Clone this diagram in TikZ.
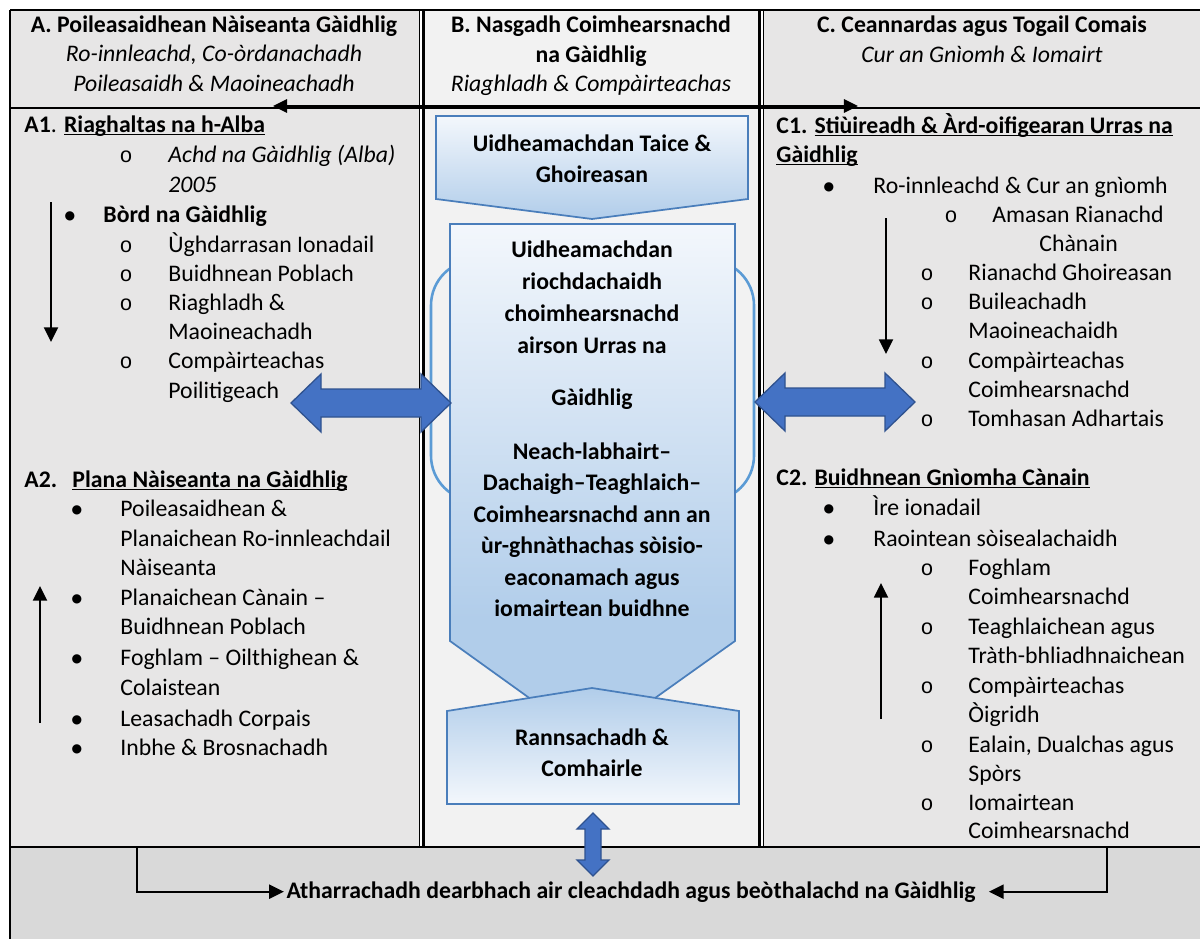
\documentclass[tikz,border=0pt]{standalone}
\usepackage{fontspec}
\setmainfont{Carlito}
\newfontfamily\courfont{Liberation Mono}
\newfontfamily\dejavu{DejaVu Sans}
\usetikzlibrary{arrows.meta}
\definecolor{grayA}{HTML}{E7E6E6}
\definecolor{grayB}{HTML}{F2F2F2}
\definecolor{grayD}{HTML}{D9D9D9}
\definecolor{shLight}{HTML}{F3F7FC}
\definecolor{shDark}{HTML}{B1CDEA}
\definecolor{shEdge}{HTML}{4A7EBB}
\definecolor{ringC}{HTML}{5B9BD5}
\definecolor{barrow}{HTML}{4472C4}
\definecolor{barrowE}{HTML}{2F528F}
\pgfdeclareverticalshading{bigsh}{100bp}{color(0bp)=(shDark); color(25bp)=(shDark); color(37bp)=(shDark); color(75bp)=(shLight); color(100bp)=(shLight)}
\newcommand\uln[1]{\setbox0=\hbox{#1}\rlap{\rule[-1.4pt]{\wd0}{0.6pt}}\box0}
\newcommand\bodyfs{\fontsize{11pt}{13.6pt}\selectfont}
\newcommand\bul{\raisebox{1.2pt}{●}}
\begin{document}
\begin{tikzpicture}[x=0.463pt,y=-0.463pt,
  txt/.style={anchor=base west,inner sep=0pt,font=\bodyfs},
  txc/.style={anchor=base,inner sep=0pt,font=\bodyfs},
  hb/.style={anchor=base,inner sep=0pt,font=\bodyfs\bfseries},
  hi/.style={anchor=base,inner sep=0pt,font=\bodyfs\itshape},
  bl/.style={anchor=base,inner sep=0pt,font=\fontsize{5.6pt}{7pt}\dejavu},
  sb/.style={anchor=base,inner sep=0pt,font=\fontsize{10pt}{12pt}\courfont},
  gridline/.style={line width=0.9pt},
  gthin/.style={line width=0.45pt},
  gthick/.style={line width=1.3pt},
  conn/.style={line width=0.8pt,-{Triangle[length=6.8pt,width=6.5pt]}},
  conn2/.style={line width=0.8pt,{Triangle[length=6.5pt,width=6.2pt]}-{Triangle[length=6.5pt,width=6.2pt]}},
  shapebox/.style={draw=shEdge,line width=0.8pt},
  blockarrow/.style={fill=barrow,draw=barrowE,line width=0.6pt},
]
\useasboundingbox (0,0) rectangle (1200,939);
\fill[white] (0,0) rectangle (1200,939);
% backgrounds
\fill[grayA] (10,10) rectangle (419,847);
\fill[grayB] (423,10) rectangle (760,847);
\fill[grayA] (764,10) rectangle (1200,847);
\fill[grayD] (10,847) rectangle (1200,939);
% table lines
\draw[gridline] (10,10) -- (1200,10);
\draw[gridline] (10,108) -- (1200,108);
\draw[gridline] (10,847) -- (1200,847);
\draw[gridline] (10,10) -- (10,939);
\draw[gthin] (419,10) -- (419,847);
\draw[gthick] (423.5,10) -- (423.5,847);
\draw[gthick] (759.5,10) -- (759.5,847);
\draw[gthin] (763.5,10) -- (763.5,847);

% headers
\node[hb] (hA1) at (214,32) {A. Poileasaidhean Nàiseanta Gàidhlig};
\node[hi] (hA2) at (214,61) {Ro-innleachd, Co-òrdanachadh};
\node[hi] (hA3) at (214,91) {Poileasaidh \& Maoineachadh};
\node[hb] (hB1) at (591,32) {B. Nasgadh Coimhearsnachd};
\node[hb] (hB2) at (591,62) {na Gàidhlig};
\node[hi] (hB3) at (591,91) {Riaghladh \& Compàirteachas};
\node[hb] (hC1) at (982,32) {C. Ceannardas agus Togail Comais};
\node[hi] (hC2) at (982,62) {Cur an Gnìomh \& Iomairt};

% middle shapes
\draw[ringC,line width=1.2pt,rounded corners=21pt] (431,260) rectangle (754,501);
\draw[shapebox,top color=shLight,bottom color=shDark] (436,116) -- (748,116) -- (748,199) -- (592,219) -- (436,199) -- cycle;
\draw[shapebox,shading=bigsh] (450,224) -- (735,224) -- (735,641) -- (592,743) -- (450,641) -- cycle;
\draw[shapebox,top color=shDark,bottom color=shLight] (447,711) -- (592,688) -- (739,711) -- (739,804) -- (447,804) -- cycle;

\node[hb] (m1) at (592,151) {Uidheamachdan Taice \&};
\node[hb] (m2) at (592,182) {Ghoireasan};
\node[hb] (m3) at (592,257) {Uidheamachdan};
\node[hb] (m4) at (592,289) {riochdachaidh};
\node[hb] (m5) at (592,321) {choimhearsnachd};
\node[hb] (m6) at (592,353) {airson Urras na};
\node[hb] (m7) at (592,405) {Gàidhlig};
\node[hb] (m8) at (592,459) {Neach-labhairt–};
\node[hb] (m9) at (592,490) {Dachaigh–Teaghlaich–};
\node[hb] (m10) at (592,522) {Coimhearsnachd ann an};
\node[hb] (m11) at (592,553) {ùr-ghnàthachas sòisio-};
\node[hb] (m12) at (592,585) {eaconamach agus};
\node[hb] (m13) at (592,616) {iomairtean buidhne};
\node[hb] (m14) at (592,745) {Rannsachadh \&};
\node[hb] (m15) at (592,776) {Comhairle};

% A1
\node[txt] (a1) at (24,132) {\textbf{A1}. \uln{\textbf{Riaghaltas na h-Alba}}};
\node[sb] (a1o1) at (126,162) {o};
\node[txt] (a1t1) at (168,162) {\itshape Achd na Gàidhlig (Alba)};
\node[txt] (a1t1b) at (168,192) {\itshape 2005};
\node[bl] (a1b1) at (70,222) {\bul};
\node[txt] (a1t2) at (103,222) {\bfseries Bòrd na Gàidhlig};
\node[sb] (a1o2) at (126,252) {o};
\node[txt] (a1t3) at (168,252) {Ùghdarrasan Ionadail};
\node[sb] (a1o3) at (126,281) {o};
\node[txt] (a1t4) at (168,281) {Buidhnean Poblach};
\node[sb] (a1o4) at (126,310) {o};
\node[txt] (a1t5) at (168,310) {Riaghladh \&};
\node[txt] (a1t5b) at (168,339) {Maoineachadh};
\node[sb] (a1o5) at (126,368) {o};
\node[txt] (a1t6) at (168,368) {Compàirteachas};
\node[txt] (a1t6b) at (168,398) {Poilitigeach};

% A2
\node[txt] (a2) at (24,487) {\textbf{A2.}};
\node[txt] (a2u) at (72,487) {\uln{\textbf{Plana Nàiseanta na Gàidhlig}}};
\node[bl] (a2b1) at (77,516) {\bul};
\node[txt] (a2t1) at (120,516) {Poileasaidhean \&};
\node[txt] (a2t1b) at (120,546) {Planaichean Ro-innleachdail};
\node[txt] (a2t1c) at (120,575) {Nàiseanta};
\node[bl] (a2b2) at (77,605) {\bul};
\node[txt] (a2t2) at (120,605) {Planaichean Cànain –};
\node[txt] (a2t2b) at (120,634) {Buidhnean Poblach};
\node[bl] (a2b3) at (77,665) {\bul};
\node[txt] (a2t3) at (120,665) {Foghlam – Oilthighean \&};
\node[txt] (a2t3b) at (120,695) {Colaistean};
\node[bl] (a2b4) at (77,726) {\bul};
\node[txt] (a2t4) at (120,726) {Leasachadh Corpais};
\node[bl] (a2b5) at (77,755) {\bul};
\node[txt] (a2t5) at (120,755) {Inbhe \& Brosnachadh};

% C1
\node[txt] (c1) at (776,133) {\textbf{C1. }\uln{\textbf{Stiùireadh \& Àrd-oifigearan Urras na}}};
\node[txt] (c1b) at (776,162) {\uln{\textbf{Gàidhlig}}};
\node[bl] (c1b1) at (829,193) {\bul};
\node[txt] (c1t1) at (873,193) {Ro-innleachd \& Cur an gnìomh};
\node[sb] (c1o1) at (951,222) {o};
\node[txt] (c1t2) at (992,222) {Amasan Rianachd};
\node[txt] (c1t2b) at (1039,251) {Chànain};
\node[sb] (c1o2) at (927,280) {o};
\node[txt] (c1t3) at (968,280) {Rianachd Ghoireasan};
\node[sb] (c1o3) at (927,309) {o};
\node[txt] (c1t4) at (968,309) {Buileachadh};
\node[txt] (c1t4b) at (968,338) {Maoineachaidh};
\node[sb] (c1o4) at (927,368) {o};
\node[txt] (c1t5) at (968,368) {Compàirteachas};
\node[txt] (c1t5b) at (968,397) {Coimhearsnachd};
\node[sb] (c1o5) at (927,426) {o};
\node[txt] (c1t6) at (968,426) {Tomhasan Adhartais};

% C2
\node[txt] (c2) at (776,485) {\textbf{C2. }\uln{\textbf{Buidhnean Gnìomha Cànain}}};
\node[bl] (c2b1) at (829,515) {\bul};
\node[txt] (c2t1) at (873,515) {Ìre ionadail};
\node[bl] (c2b2) at (829,546) {\bul};
\node[txt] (c2t2) at (873,546) {Raointean sòisealachaidh};
\node[sb] (c2o1) at (927,575) {o};
\node[txt] (c2t3) at (968,575) {Foghlam};
\node[txt] (c2t3b) at (968,604) {Coimhearsnachd};
\node[sb] (c2o2) at (927,634) {o};
\node[txt] (c2t4) at (968,634) {Teaghlaichean agus};
\node[txt] (c2t4b) at (968,663) {Tràth-bhliadhnaichean};
\node[sb] (c2o3) at (927,693) {o};
\node[txt] (c2t5) at (968,693) {Compàirteachas};
\node[txt] (c2t5b) at (968,722) {Òigridh};
\node[sb] (c2o4) at (927,752) {o};
\node[txt] (c2t6) at (968,752) {Ealain, Dualchas agus};
\node[txt] (c2t6b) at (968,781) {Spòrs};
\node[sb] (c2o5) at (927,810) {o};
\node[txt] (c2t7) at (968,810) {Iomairtean};
\node[txt] (c2t7b) at (968,838) {Coimhearsnachd};

% bottom text
\node[hb] (btm) at (631,898) {Atharrachadh dearbhach air cleachdadh agus beòthalachd na Gàidhlig};

% block arrows
\draw[blockarrow] (291,403) -- (321,374) -- (321,389) -- (421,389) -- (421,374) -- (451,403) -- (421,432) -- (421,417) -- (321,417) -- (321,432) -- cycle;
\draw[blockarrow] (755,402) -- (785,373) -- (785,388) -- (885,388) -- (885,373) -- (915,402) -- (885,431) -- (885,416) -- (785,416) -- (785,431) -- cycle;
\draw[blockarrow] (593,813) -- (609,829) -- (601,829) -- (601,860) -- (609,860) -- (593,876) -- (577,860) -- (585,860) -- (585,829) -- (577,829) -- cycle;

% thin connectors
\coordinate (a1s) at (51,202);
\coordinate (a1e) at (51,342);
\draw[conn] (a1s) -- (a1e);
\coordinate (a2s) at (40,723);
\coordinate (a2e) at (40,586);
\draw[conn] (a2s) -- (a2e);
\coordinate (c1s) at (886,218);
\coordinate (c1e) at (886,354);
\draw[conn] (c1s) -- (c1e);
\coordinate (c2s) at (881,719);
\coordinate (c2e) at (881,583);
\draw[conn] (c2s) -- (c2e);
\coordinate (tl) at (273,106);
\coordinate (tr) at (858,106);
\draw[conn2] (tl) -- (tr);
\coordinate (bls) at (137,847);
\coordinate (brs) at (1107,847);
\draw[conn] (bls) |- ([xshift=-1pt]btm.west);
\draw[conn] (brs) |- ([xshift=6pt]btm.east);
\end{tikzpicture}
\end{document}
